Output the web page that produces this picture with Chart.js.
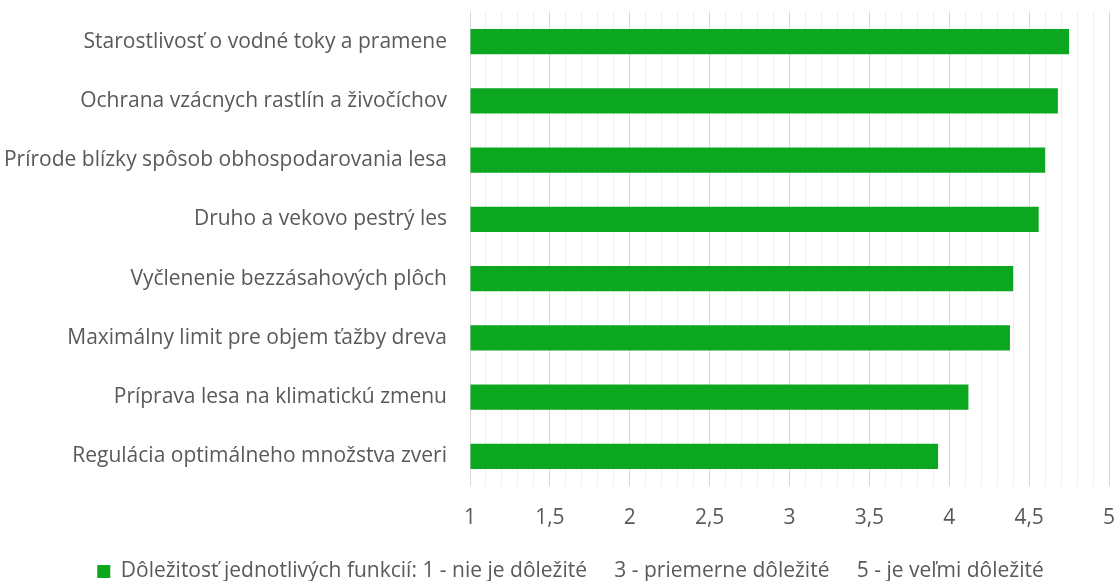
<!DOCTYPE html>
<html>
<head>
<meta charset="utf-8">
<script src="https://cdn.jsdelivr.net/npm/chart.js@4/dist/chart.umd.min.js"></script>
<style>
  html, body { margin: 0; padding: 0; background: #fff; }
  #wrap { width: 1118px; height: 581px; }
</style>
</head>
<body>
<div id="wrap"><canvas id="chart" width="1118" height="581"></canvas></div>
<script>
const categories = [
  'Starostlivosť o vodné toky a pramene',
  'Ochrana vzácnych rastlín a živočíchov',
  'Prírode blízky spôsob obhospodarovania lesa',
  'Druho a vekovo pestrý les',
  'Vyčlenenie bezzásahových plôch',
  'Maximálny limit pre objem ťažby dreva',
  'Príprava lesa na klimatickú zmenu',
  'Regulácia optimálneho množstva zveri',
];
const importance = [4.75, 4.68, 4.60, 4.56, 4.40, 4.38, 4.12, 3.93];
const seriesLabel = 'Dôležitosť jednotlivých funkcií: 1 - nie je dôležité     3 - priemerne dôležité     5 - je veľmi dôležité';
const axisMin = 1;
const axisMax = 5;

const textColor = '#595959';
const fontFamily = '"Open Sans", sans-serif';
const fontSize = 21;

// nudge the legend a bit right/down, like in the original
const legendNudge = {
  id: 'legendNudge',
  afterLayout(chart) {
    const lg = chart.legend;
    lg.left += 16; lg.right += 16;
    lg.top += 11; lg.bottom += 11;
  },
};

const chart = new Chart(document.getElementById('chart'), {
  type: 'bar',
  data: {
    labels: categories,
    datasets: [{
      label: seriesLabel,
      data: importance,
      base: axisMin,
      backgroundColor: '#0ba71f',
      borderWidth: 0,
      barPercentage: 0.85,
      categoryPercentage: 0.5,
    }],
  },
  plugins: [legendNudge],
  options: {
    indexAxis: 'y',
    responsive: false,
    animation: false,
    layout: { padding: { top: 12, right: 9, bottom: 0, left: 0 } },
    plugins: {
      tooltip: { enabled: false },
      legend: {
        position: 'bottom',
        labels: {
          color: textColor,
          font: { family: fontFamily, size: fontSize },
          boxWidth: 13,
          boxHeight: 13,
          padding: 3,
        },
      },
    },
    scales: {
      x: {
        min: axisMin,
        max: axisMax,
        border: { display: false },
        grid: {
          drawTicks: false,
          color: (c) => {
            const v = Math.round(c.tick.value * 10);
            return v % 5 === 0 ? '#d9d9d9' : '#f0f0f0';
          },
          lineWidth: 1,
        },
        ticks: {
          stepSize: 0.1,
          autoSkip: false,
          maxRotation: 0,
          minRotation: 0,
          padding: 19,
          color: textColor,
          font: { family: fontFamily, size: fontSize },
          callback: (value) => {
            const v = Math.round(value * 10);
            if (v % 5 !== 0) return '';
            return String(v / 10).replace('.', ',');
          },
        },
        afterFit: (scale) => {
          scale.paddingLeft = 0;
          scale.paddingRight = 0;
          scale.height = 61;
        },
      },
      y: {
        border: { display: false },
        grid: { display: false, drawTicks: false },
        ticks: {
          padding: 23,
          color: textColor,
          font: { family: fontFamily, size: fontSize },
        },
        afterFit: (scale) => {
          scale.width = 470;
          scale.paddingTop = 0;
          scale.paddingBottom = 0;
        },
      },
    },
  },
});
</script>
</body>
</html>
